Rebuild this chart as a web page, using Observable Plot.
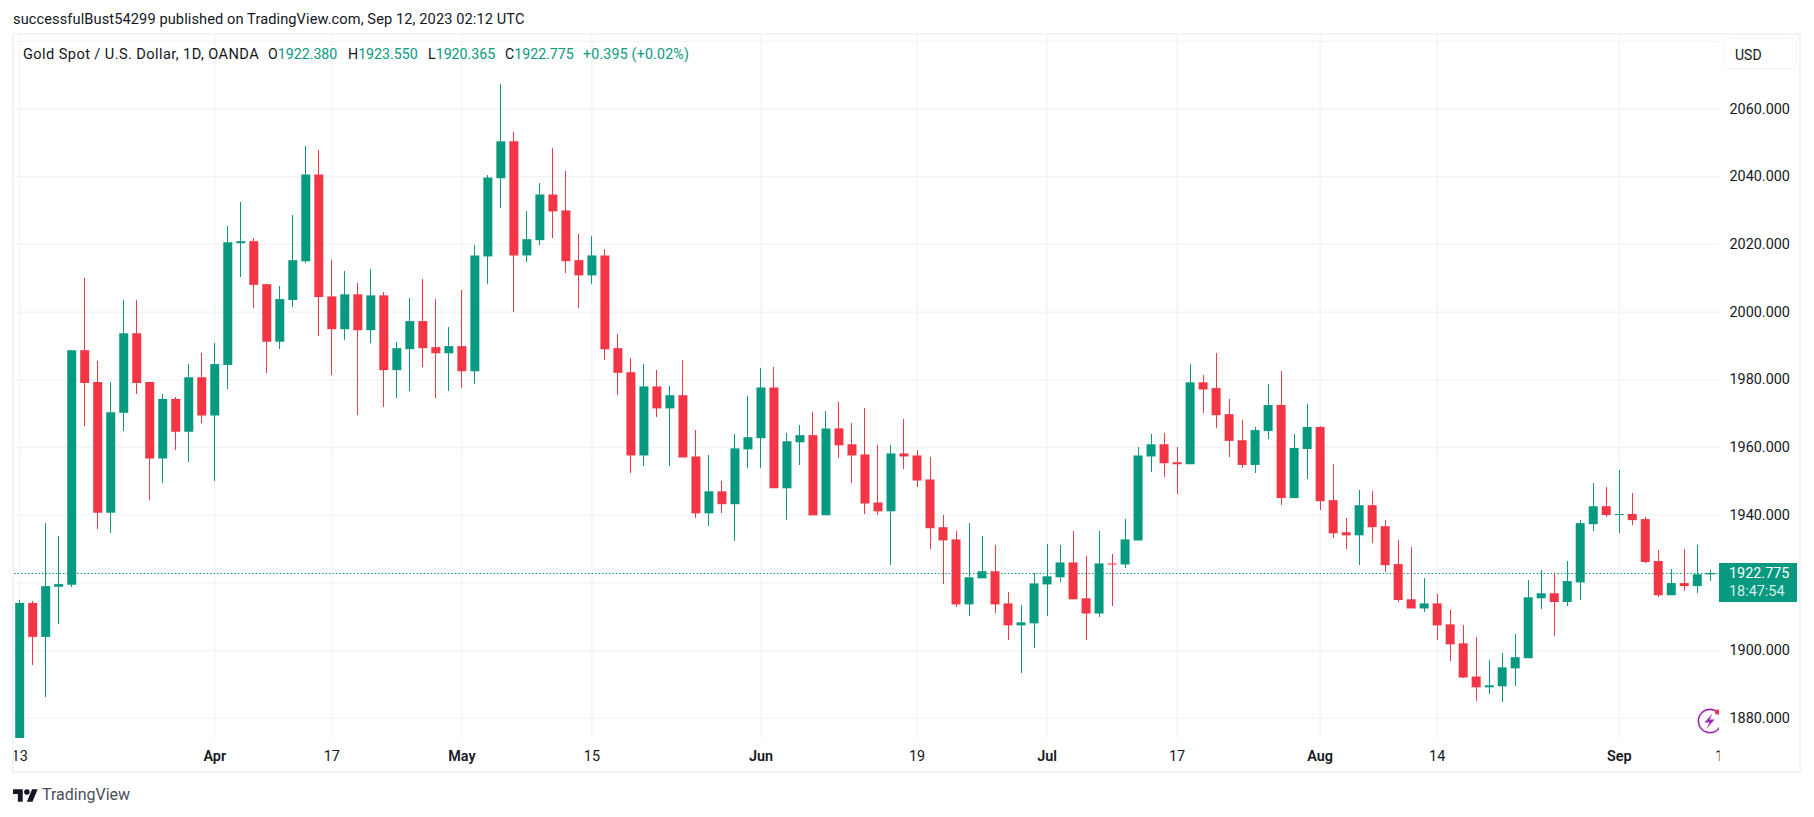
<!DOCTYPE html>
<html><head><meta charset="utf-8">
<script src="https://cdn.jsdelivr.net/npm/d3@7"></script>
<script src="https://cdn.jsdelivr.net/npm/@observablehq/plot@0.6"></script>
<style>
html,body{margin:0;padding:0;background:#fff;width:1814px;height:817px;overflow:hidden}
body{position:relative;font-family:Roboto,sans-serif;color:#131722}
.a{position:absolute;white-space:nowrap;line-height:1}
#chart{position:absolute;left:0;top:33px}
#chart svg{display:block}
#frame{position:absolute;left:12px;top:33px;width:1789px;height:740px;box-sizing:border-box;border:2px solid #f0f3fa;pointer-events:none}
.g{color:#089981}
.lg{top:47px;font-size:14.2px}
</style></head><body>
<div class="a" id="pub" style="left:13px;top:12px;font-size:14.6px;letter-spacing:.1px">successfulBust54299 published on TradingView.com, Sep 12, 2023 02:12 UTC</div>
<div id="chart"></div>
<div id="frame"></div>
<div class="a lg" style="left:23px;font-size:14.6px;letter-spacing:.41px">Gold Spot / U.S. Dollar, 1D, OANDA</div>
<div class="a lg" style="left:268px">O<span class="g">1922.380</span></div>
<div class="a lg" style="left:348px">H<span class="g">1923.550</span></div>
<div class="a lg" style="left:428px">L<span class="g">1920.365</span></div>
<div class="a lg" style="left:505px">C<span class="g">1922.775</span></div>
<div class="a lg g" style="left:583px;letter-spacing:.2px">+0.395 (+0.02%)</div>
<div class="a" style="left:1723px;top:38px;width:74px;height:31px;box-sizing:border-box;border:1px solid #f0f3fa;border-radius:6px;background:#fff;font-size:14px;padding:9px 0 0 11px">USD</div>
<div class="a" style="left:1719px;top:563px;width:78px;height:39px;background:#089981"></div>
<div class="a" style="left:1729px;top:567px;color:#fff;font-size:14.4px">1922.775</div>
<div class="a" style="left:1729px;top:585px;color:#d5efe9;font-size:14.4px">18:47:54</div>
<svg class="a" style="left:1697px;top:708px" width="22" height="26" viewBox="0 0 22 26"><circle cx="13" cy="13" r="11.6" fill="none" stroke="#9c27b0" stroke-width="1.6"/><path d="M15.5 5.5 L7.5 14.5 H12.5 L9.5 21 L17.5 11.5 H12.5 Z" fill="#9c27b0"/><circle cx="20.5" cy="4" r="2.6" fill="#f23645"/></svg>
<svg class="a" style="left:13px;top:788px" width="25" height="15" viewBox="0 4 36 18"><path d="M14 22H7V11H0V4h14v18zM28 22h-8l7.5-18h8L28 22z" fill="#131722"/><circle cx="20" cy="8" r="4" fill="#131722"/></svg>
<div class="a" style="left:42px;top:787px;font-size:16px;color:#4a4f5a">TradingView</div>
<script>
const opens=[1868,1913.9,1903.9,1918.7,1919.3,1988.6,1979.2,1940.6,1970.1,1993.6,
1979.2,1956.6,1974.2,1964.5,1980.6,1969.3,1984.2,2020.2,2020.8,2008.1,
1991.1,2003.4,2014.9,2040.5,2004.5,1994.8,2005.1,1994.5,2004.8,1982.7,
1988.9,1997.2,1989.5,1987.7,1989.8,1982.4,2016.3,2039.4,2050.3,2016.6,
2021.1,2034.6,2029.9,2015.2,2010.7,2016.6,1989.2,1982.1,1957.5,1977.9,
1971.4,1975.3,1957.2,1940.4,1946.9,1943.1,1959.3,1962.6,1977.6,1947.8,
1961.4,1963.5,1939.8,1965.5,1960.8,1957.8,1943.6,1941,1958.1,1957.5,
1950.4,1936.3,1932.7,1913.5,1921.2,1923.3,1913.8,1907.3,1907.9,1919.4,
1921.5,1925.9,1915.3,1910.8,1925.6,1925.3,1932.4,1957.2,1960.8,1955.5,
1954.9,1979.1,1977.4,1969.7,1962,1954.7,1964.7,1972.4,1944.9,1959.4,
1965.9,1944.3,1934.8,1933.9,1942.8,1936.6,1925.4,1915,1912.3,1913.8,
1907.6,1902,1892.2,1889,1889.3,1894.6,1897.6,1915.3,1916.8,1914.2,
1920,1937.2,1942.5,1939.9,1940.2,1938.7,1926.3,1916.2,1919.8,1918.9,1922.38];
const closes=[1913.9,1903.9,1918.9,1919.5,1988.6,1978.9,1940.6,1970.3,1993.6,1978.9,
1956.6,1974.2,1964.5,1980.6,1969.3,1984.5,2020.5,2020.8,2007.9,1991.1,
2003.7,2015.2,2040.5,2004.3,1994.8,2005.1,1994.5,2004.8,1982.7,1989.2,
1997.2,1989.2,1987.7,1989.8,1982.4,2016.6,2039.6,2050.3,2016.6,2021.4,
2034.6,2029.6,2014.9,2010.7,2016.6,1988.9,1981.9,1957.5,1977.9,1971.4,
1975.3,1956.9,1940.4,1946.9,1943.1,1959.6,1962.9,1977.6,1947.8,1961.7,
1963.5,1939.8,1965.5,1960.5,1957.5,1943.3,1941,1958.1,1957.2,1950.1,
1936,1932.4,1913.5,1921.5,1923.3,1913.5,1907.3,1908.2,1919.7,1921.8,
1925.9,1915,1910.8,1925.6,1925.3,1932.7,1957.5,1960.8,1955.2,1954.9,
1979.1,1977,1969.4,1961.8,1954.7,1965,1972.4,1944.9,1959.7,1965.9,
1944,1934.5,1933.9,1942.8,1936.3,1925.1,1914.8,1912.3,1913.8,1907.3,
1901.7,1891.9,1889,1889.6,1894.9,1897.9,1915.6,1916.8,1914.2,1920.4,
1937.5,1942.5,1939.9,1940.2,1938.4,1926,1916.2,1919.8,1918.9,1922.4,1922.775];
const highs=[1914.8,1914.5,1937.5,1933.7,1988.7,2009.8,1985.4,1979.2,2003.4,2003.4,
1979.2,1975.6,1974.8,1984.5,1987.7,1990.7,2025.2,2032.3,2021.7,2008.1,
2007.5,2028.4,2048.8,2047.6,2015.2,2011.9,2008.4,2012.5,2005.7,1991,
2004,2009.6,2003.7,1995.4,2006.3,2019.6,2040.5,2067.1,2053.2,2029.6,
2037.9,2048.2,2041.4,2022.8,2022.2,2018.4,1993.3,1986.2,1984.4,1982.7,
1977.9,1985.6,1964.9,1957.5,1949.9,1963.7,1975,1983.3,1983.5,1964,
1966.4,1970.2,1970.5,1973.2,1967,1971.4,1960.5,1960.5,1968.2,1959,
1956.9,1939.8,1935.1,1937.4,1933.6,1931,1917.3,1913.2,1922.9,1931.2,
1931,1935.1,1927.7,1935.1,1928.3,1938.6,1959.9,1963.7,1964,1959.9,
1984.4,1981.2,1987.8,1974.2,1968,1965.9,1978.6,1982.5,1963.8,1972.7,
1966.2,1955,1939,1947.3,1947,1938.4,1932.5,1930.4,1921.2,1916.5,
1911.8,1907.3,1903.8,1897,1899,1904.7,1920.6,1923.6,1922.7,1926.3,
1938.4,1949.3,1948.1,1953.2,1946.4,1939.3,1929.5,1923.9,1929.8,1931,1923.55];
const lows=[1865,1895.7,1886.2,1907.8,1918.6,1966.3,1935.9,1934.7,1964.8,1975.6,
1944.4,1949.5,1959.2,1955.7,1967.2,1950,1977.2,2010.2,2001.1,1981.9,
1989,2001.4,2014.3,1992.7,1981.2,1991.6,1969.6,1990.7,1971.9,1974.5,
1976.5,1983.6,1974.5,1976.5,1977.4,1978.6,2008.1,2030.5,1999.8,2014.6,
2019.6,2021.7,2011.3,2001,2008.1,1985.7,1975.3,1952.2,1954.3,1969,
1954.3,1956.9,1938.9,1936.8,1940.4,1932.1,1953.7,1953.7,1947.8,1938.3,
1954.6,1939.8,1939.8,1956.7,1949.3,1940.1,1939.8,1925,1953.4,1948.1,
1930,1919.4,1912.6,1910.2,1921.2,1911.1,1902.9,1893.1,1900.6,1910.2,
1920,1915,1902.9,1909.7,1912.9,1924.4,1932.4,1952.5,1951,1946,
1954.9,1969.9,1965.6,1957,1953.8,1952.3,1962.3,1942.8,1944.9,1950.5,
1941.3,1933,1929.8,1925.1,1931.6,1923,1914.2,1912.3,1911.2,1902.9,
1896.7,1891.9,1885.1,1886.9,1884.8,1889.3,1897.6,1912,1904.1,1913,
1914.7,1935.1,1939.3,1934.6,1936.9,1925.7,1915.6,1916.2,1917.4,1916.8,1920.365];
const priceTicks=[1880,1900,1940,1960,1980,2000,2020,2040,2060];
const priceGrid=[...priceTicks,1920,2080];
const dayTicks=[0,24,44,69,89,109,131];
const dayLabels=["13","17","15","19","17","14","13"];
const monthTicks=[15,34,57,79,100,123];
const monthLabels=["Apr","May","Jun","Jul","Aug","Sep"];
const lastPrice=1922.775;
const GREEN="#089981",RED="#f23645",GRID="#f2f3f5",INK="#131722";

const candles=opens.map((o,i)=>({i,o,c:closes[i],h:highs[i],l:lows[i],col:closes[i]>=o?GREEN:RED}));
const lab=(t,l)=>d=>l[t.indexOf(d)];
const plot=Plot.plot({
  width:1814,height:740,
  marginTop:1,marginBottom:35,marginLeft:14,marginRight:95,
  style:{background:"transparent",fontFamily:"Roboto,sans-serif"},
  x:{type:"linear",domain:[-0.4,130.71],axis:null},
  y:{type:"linear",domain:[1874.03,2082.01],axis:null},
  marks:[
    Plot.ruleY(priceGrid,{stroke:GRID,strokeWidth:1.3,clip:true}),
    Plot.ruleX([...dayTicks,...monthTicks],{stroke:GRID,strokeWidth:1.3,clip:true}),
    Plot.ruleY([lastPrice],{stroke:GREEN,strokeWidth:1.2,strokeDasharray:"1.5 2",clip:true}),
    Plot.ruleX(candles,{x:"i",y1:"l",y2:"h",stroke:"col",strokeWidth:1,shapeRendering:"crispEdges",clip:true}),
    Plot.ruleX(candles,{x:"i",y1:"o",y2:"c",stroke:"col",strokeWidth:9,clip:true}),
    Plot.axisY({anchor:"right",ticks:priceTicks,tickSize:0,tickPadding:10,tickFormat:d3.format(".3f"),fontSize:14.4,color:INK,label:null}),
    Plot.axisX({anchor:"bottom",ticks:dayTicks,tickSize:0,tickPadding:12,tickFormat:lab(dayTicks,dayLabels),fontSize:14.4,color:INK,label:null}),
    Plot.axisX({anchor:"bottom",ticks:monthTicks,tickSize:0,tickPadding:12,tickFormat:lab(monthTicks,monthLabels),fontSize:14.4,fontWeight:600,color:INK,label:null})
  ]
});
document.getElementById("chart").appendChild(plot);
const svg=d3.select(plot);
svg.append("defs").append("clipPath").attr("id","xclip").append("rect").attr("x",14).attr("y",0).attr("width",1705).attr("height",740);
svg.selectAll('g[aria-label="x-axis tick label"]').attr("clip-path","url(#xclip)");
</script>
</body></html>
